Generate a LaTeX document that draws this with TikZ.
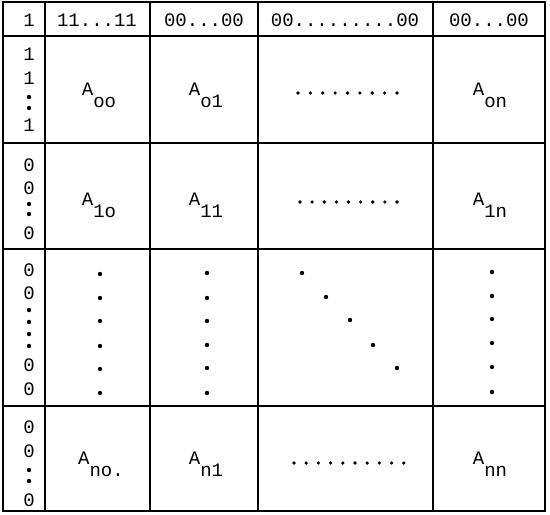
\documentclass[tikz,border=0pt]{standalone}
\usepackage{fontspec}
\setmainfont{Liberation Mono}
\newcommand\Asub[1]{A\raisebox{-12pt}{#1}}
\begin{document}
\begin{tikzpicture}[x=1pt,y=-1pt,
  grid/.style={line width=1.7pt},
  txt/.style={font=\fontsize{19}{19}\selectfont, inner sep=0pt, anchor=base},
  sym/.style={font=\fontsize{19}{19}\selectfont, inner sep=0pt, anchor=center},
  bigdot/.style={circle,fill,inner sep=0pt,minimum size=4.4pt},
  smalldot/.style={circle,fill,inner sep=0pt,minimum size=3.6pt}]
\useasboundingbox (0,0) rectangle (550,515);
% grid
\draw[grid] (3,2) rectangle (545,511);
\foreach \x in {45,150,258,433} \draw[grid] (\x,2) -- (\x,511);
\foreach \y in {36,143,249,406} \draw[grid] (3,\y) -- (545,\y);
% header
\node[txt] (h0) at (29,26) {1};
\node[txt] (h1) at (97,26) {11...11};
\node[txt] (h2) at (204,26) {00...00};
\node[txt] (h3) at (345,26) {00.........00};
\node[txt] (h4) at (489,26) {00...00};
% left column row 2
\node[sym] (l2a) at (29,54) {1};
\node[sym] (l2b) at (29,78) {1};
\node[bigdot] (l2c) at (29,97) {};
\node[bigdot] (l2d) at (29,108) {};
\node[sym] (l2e) at (29,125) {1};
% left column row 3
\node[sym] (l3a) at (29,165) {0};
\node[sym] (l3b) at (29,188) {0};
\node[bigdot] (l3c) at (29,204) {};
\node[bigdot] (l3d) at (29,214) {};
\node[sym] (l3e) at (29,233) {0};
% left column row 4
\node[sym] (l4a) at (29,270) {0};
\node[sym] (l4b) at (29,293) {0};
\foreach \y [count=\i] in {310,322,334,346} \node[bigdot] (l4d\i) at (29,\y) {};
\node[sym] (l4e) at (29,365) {0};
\node[sym] (l4f) at (29,389) {0};
% left column row 5
\node[sym] (l5a) at (29,427) {0};
\node[sym] (l5b) at (29,451) {0};
\node[bigdot] (l5c) at (29,470) {};
\node[bigdot] (l5d) at (29,481) {};
\node[sym] (l5e) at (29,500) {0};
% row 2
\node[txt] (a00) at (99,95) {\Asub{oo}};
\node[txt] (a01) at (206,95) {\Asub{o1}};
\foreach \i in {1,...,9} \node[smalldot] (r2d\i) at ({298+(\i-1)*12.375},93) {};
\node[txt] (a0n) at (490,95) {\Asub{on}};
% row 3
\node[txt] (a10) at (99,205) {\Asub{1o}};
\node[txt] (a11) at (206,205) {\Asub{11}};
\foreach \i in {1,...,9} \node[smalldot] (r3d\i) at ({300+(\i-1)*12.125},202) {};
\node[txt] (a1n) at (490,205) {\Asub{1n}};
% row 4
\foreach \y [count=\i] in {274,298,321,346,369,393} \node[bigdot] (c1d\i) at (100,\y) {};
\foreach \y [count=\i] in {273,298,321,345,368,393} \node[bigdot] (c2d\i) at (207,\y) {};
\foreach \y [count=\i] in {272,296,319,343,367,392} \node[bigdot] (c4d\i) at (492,\y) {};
\foreach \x/\y [count=\i] in {302/273,326/297,350/320,373/345,397/368} \node[bigdot] (dg\i) at (\x,\y) {};
% row 5
\node[txt] (an0) at (101,464) {\Asub{no.}};
\node[txt] (an1) at (206,464) {\Asub{n1}};
\foreach \i in {1,...,10} \node[smalldot] (r5d\i) at ({294+(\i-1)*12.2},463) {};
\node[txt] (ann) at (490,464) {\Asub{nn}};
\end{tikzpicture}
\end{document}
